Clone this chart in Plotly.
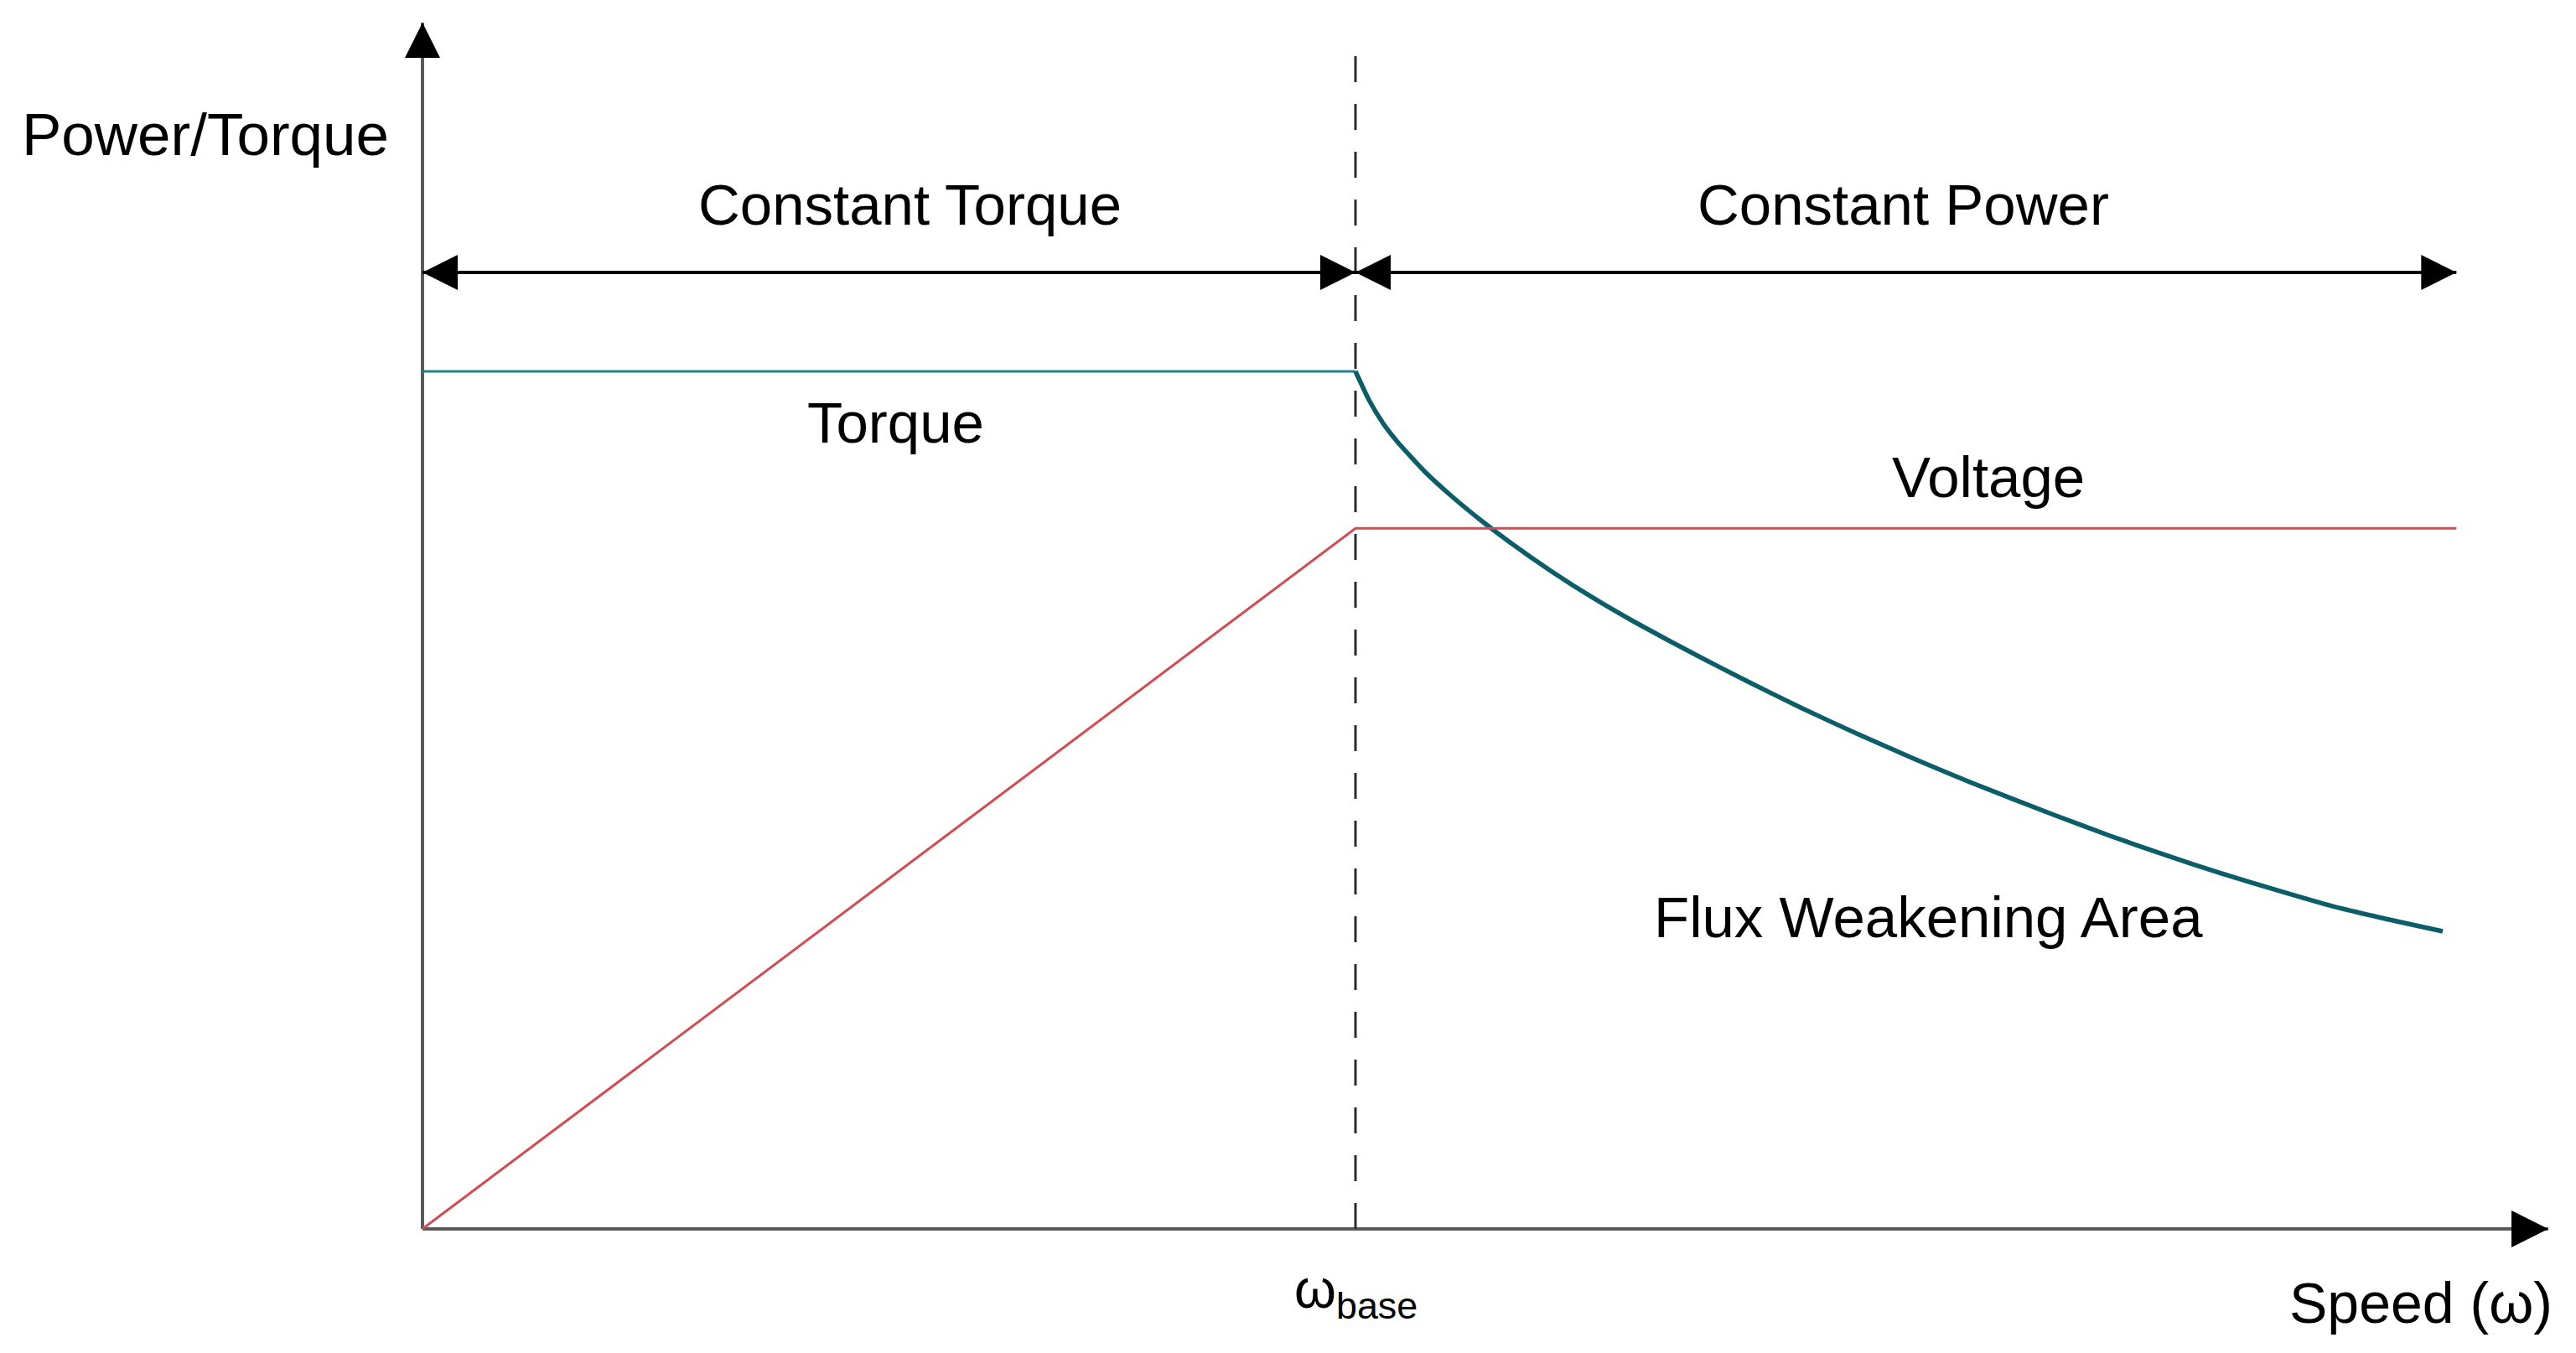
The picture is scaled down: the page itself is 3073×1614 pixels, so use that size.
import plotly.graph_objects as go

# ---------------- data (normalised: speed / w_base, torque / rated torque) -------------
SPEED_CONST_TORQUE = [0.0, 1.0]
TORQUE_CONST = [1.0, 1.0]

SPEED_FLUX_WEAK = [1.0000, 1.0144, 1.0296, 1.0449, 1.0746, 1.1042, 1.1348, 1.1644,
                   1.2093, 1.2543, 1.2992, 1.3594, 1.4187, 1.4789, 1.5391, 1.5984, 1.6586,
                   1.7484, 1.8086, 1.8679, 1.9281, 1.9883, 2.0476, 2.1078, 2.1653]
TORQUE_FLUX_WEAK = [1.0000, 0.9668, 0.9394, 0.9179, 0.8827, 0.8534, 0.8260, 0.8016,
                    0.7674, 0.7361, 0.7077, 0.6725, 0.6393, 0.6070, 0.5767, 0.5484, 0.5210,
                    0.4829, 0.4585, 0.4360, 0.4145, 0.3949, 0.3763, 0.3607, 0.3470]

SPEED_VOLTAGE = [0.0, 1.0, 2.18]
VOLTAGE = [0.0, 0.817, 0.817]

W_BASE = 1.0
SPEED_MAX = 2.18          # end of the constant power region
X_AXIS_END = 2.2785
Y_AXIS_END = 1.4066
DASH_TOP = 1.3685
REGION_ARROW_LEVEL = 1.1153

FONT = "Liberation Sans, Arial, Helvetica, sans-serif"
AXIS_GREY = "#5a5a5a"
TEAL_LIGHT = "#23808e"
TEAL_DARK = "#0b5d6a"
RED = "#d04c52"

fig = go.Figure()

# axes
fig.add_trace(go.Scatter(x=[0, X_AXIS_END], y=[0, 0], mode="lines",
                         line=dict(color=AXIS_GREY, width=4), hoverinfo="skip"))
fig.add_trace(go.Scatter(x=[0, 0], y=[0, Y_AXIS_END], mode="lines",
                         line=dict(color=AXIS_GREY, width=4), hoverinfo="skip"))
fig.add_trace(go.Scatter(x=[X_AXIS_END], y=[0], mode="markers",
                         marker=dict(symbol="arrow-right", size=44, color="black",
                                     line=dict(width=0)), hoverinfo="skip"))
fig.add_trace(go.Scatter(x=[0], y=[Y_AXIS_END], mode="markers",
                         marker=dict(symbol="arrow-up", size=42, color="black",
                                     line=dict(width=0)), hoverinfo="skip"))

# base speed dashed line
fig.add_trace(go.Scatter(x=[W_BASE, W_BASE], y=[0, DASH_TOP], mode="lines",
                         line=dict(color="#2b2b2b", width=3, dash="31px,26px"),
                         hoverinfo="skip"))

# region arrows
fig.add_trace(go.Scatter(x=[0, W_BASE], y=[REGION_ARROW_LEVEL] * 2, mode="lines",
                         line=dict(color="black", width=4), hoverinfo="skip"))
fig.add_trace(go.Scatter(x=[W_BASE, SPEED_MAX], y=[REGION_ARROW_LEVEL] * 2, mode="lines",
                         line=dict(color="black", width=4), hoverinfo="skip"))
fig.add_trace(go.Scatter(x=[0, W_BASE], y=[REGION_ARROW_LEVEL] * 2, mode="markers",
                         marker=dict(symbol=["arrow-left", "arrow-right"], size=42,
                                     color="black", line=dict(width=0)),
                         hoverinfo="skip"))
fig.add_trace(go.Scatter(x=[W_BASE, SPEED_MAX], y=[REGION_ARROW_LEVEL] * 2, mode="markers",
                         marker=dict(symbol=["arrow-left", "arrow-right"], size=42,
                                     color="black", line=dict(width=0)),
                         hoverinfo="skip"))

# torque and voltage
fig.add_trace(go.Scatter(x=SPEED_CONST_TORQUE, y=TORQUE_CONST, mode="lines",
                         line=dict(color=TEAL_LIGHT, width=3), name="Torque"))
fig.add_trace(go.Scatter(x=SPEED_FLUX_WEAK, y=TORQUE_FLUX_WEAK, mode="lines",
                         line=dict(color=TEAL_DARK, width=5.5, shape="spline", smoothing=0.5),
                         name="Torque (flux weakening)"))
fig.add_trace(go.Scatter(x=SPEED_VOLTAGE, y=VOLTAGE, mode="lines",
                         line=dict(color=RED, width=3), name="Voltage"))

def label(text, x, y, size=69, **kw):
    fig.add_annotation(x=x, y=y, text=text, showarrow=False, xanchor="center",
                       yanchor="middle", font=dict(family=FONT, size=size, color="black"),
                       **kw)

label("Power/Torque", -0.2327, 1.2766, size=71)
label("Constant Torque", 0.5229, 1.1945)
label("Constant Power", 1.5867, 1.1945)
label("Torque", 0.5076, 0.9394)
label("Voltage", 1.6784, 0.8759)
label("Flux Weakening Area", 1.6137, 0.3627)
label("ω<sub>base</sub>", W_BASE, -0.074, size=64)
label("Speed (ω)", 2.142, -0.086, size=68)

# the page body keeps an 8px margin, so the figure is 16px smaller and the
# ranges are set so that the drawing lands where it does in the reference
fig.update_layout(
    width=3057, height=1598,
    margin=dict(l=0, r=0, t=0, b=0),
    paper_bgcolor="white", plot_bgcolor="white",
    showlegend=False,
    xaxis=dict(visible=False, range=[-0.44564, 2.30099], fixedrange=True),
    yaxis=dict(visible=False, range=[-0.13685, 1.42522], fixedrange=True),
)

fig.write_html("out.html", config={"displayModeBar": False})
